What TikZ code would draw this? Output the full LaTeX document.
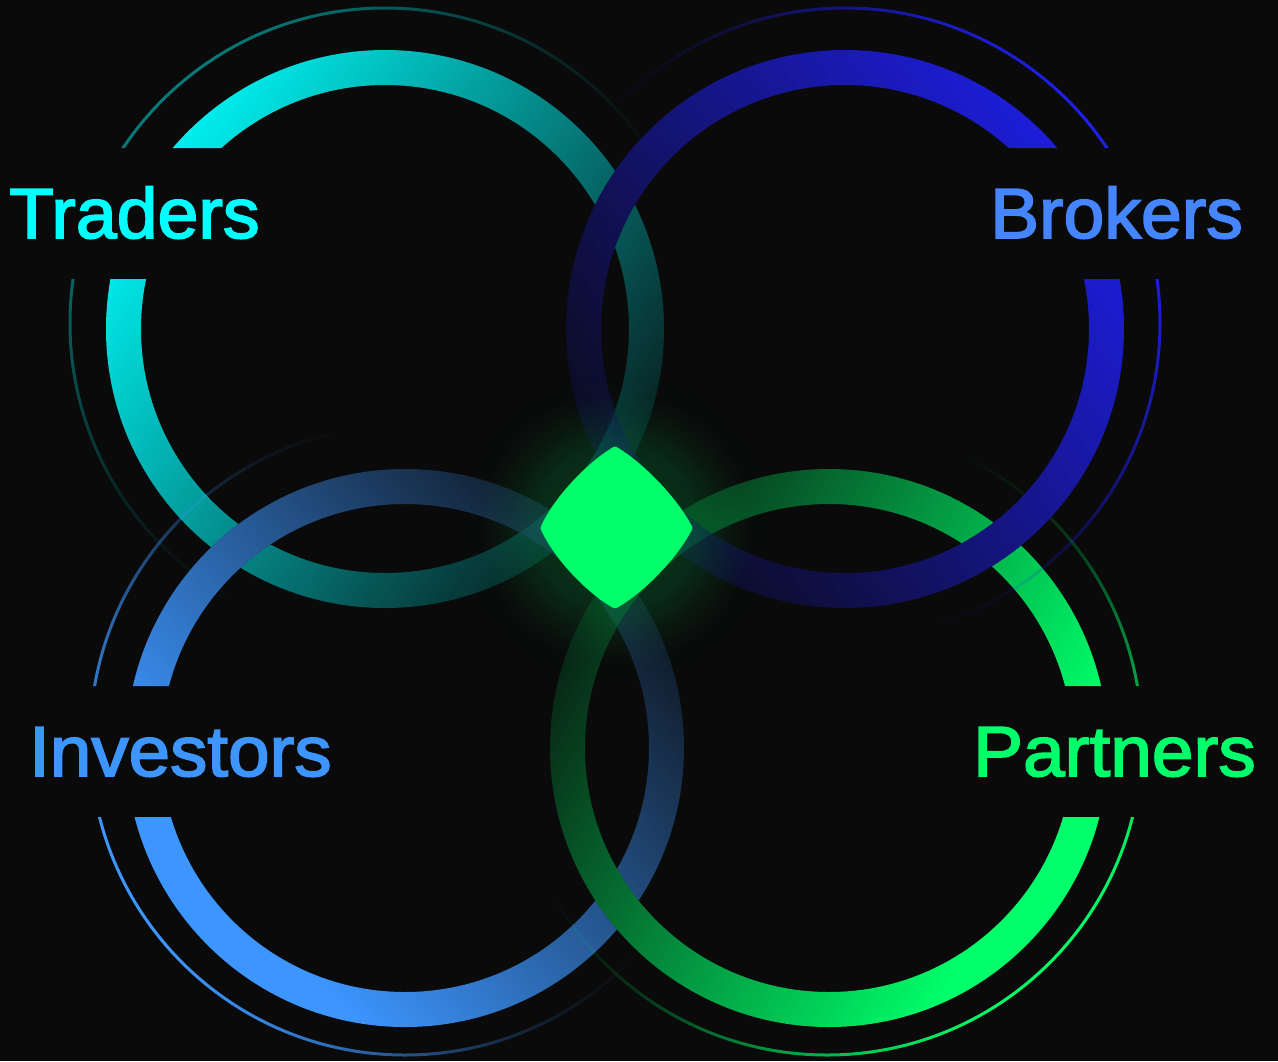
\documentclass[tikz,border=0pt]{standalone}
\usepackage{fontspec}
\newfontfamily\labelfont{Liberation Sans}[RawFeature={embolden=2.4}]
\usetikzlibrary{fadings}
\definecolor{bgdark}{HTML}{0A0A0A}
\definecolor{cyanring}{HTML}{00FFFF}
\definecolor{bluering}{HTML}{1F1FEA}
\definecolor{skyring}{HTML}{3D96FF}
\definecolor{greenring}{HTML}{00FF6A}
\definecolor{brokertext}{HTML}{4585FF}
\pgfdeclarehorizontalshading{ringmask}{100bp}{color(0bp)=(white); color(22bp)=(white); color(80bp)=(black); color(100bp)=(black)}
\pgfdeclarefading{ringfade}{\pgfuseshading{ringmask}}
\pgfdeclarehorizontalshading{brightmask}{100bp}{color(0bp)=(white); color(31bp)=(white); color(80bp)=(black); color(100bp)=(black)}
\pgfdeclarefading{brightfade}{\pgfuseshading{brightmask}}
\pgfdeclarehorizontalshading{backmask}{100bp}{color(0bp)=(white); color(66bp)=(white); color(74bp)=(black); color(100bp)=(black)}
\pgfdeclarefading{backfade}{\pgfuseshading{backmask}}
\pgfdeclarehorizontalshading{thinmask}{100bp}{color(0bp)=(white); color(26bp)=(white); color(45bp)=(black!76!white); color(51bp)=(black!91!white); color(58bp)=(black); color(100bp)=(black)}
\pgfdeclarefading{thinfade}{\pgfuseshading{thinmask}}
\pgfdeclareradialshading{glowmask}{\pgfpoint{0bp}{0bp}}{color(0bp)=(black!78!white); color(13bp)=(black!87!white); color(17bp)=(black!94!white); color(21bp)=(black!99!white); color(25bp)=(black); color(50bp)=(black)}
\pgfdeclarefading{glowfade}{\pgfuseshading{glowmask}}
\tikzset{even odd clip/.code={\pgfseteorule}}
% an exact annulus: clip to its two circles, then paint a slightly larger faded disc
% args: cx, cy, outer r, inner r, colour, fading, angle, opacity
\newcommand{\annulus}[8]{%
  \begin{scope}
    \clip[even odd clip] (#1,#2) circle[radius=#3pt] (#1,#2) circle[radius=#4pt];
    \fill[#5, path fading=#6, fading angle=#7, fill opacity=#8] (#1,#2) circle[radius=#3pt+6pt];
  \end{scope}}
% args: cx, cy of ring; cx, cy of thin arc; colour; ring fading angle; gap side x; gap top; gap bottom
% thin arc opacity in \thinop, thin arc fading angle in \thinang, ring fading in \fadename
\newcommand{\ringset}[9]{%
  \begin{scope}
    \pgfmathsetmacro{\otherside}{1278-#7}
    \clip (#7,0) -- (\otherside,0) -- (\otherside,1061) -- (#7,1061) -- (#7,#9) -- (#1,#9) -- (#1,#8) -- (#7,#8) -- cycle;
    \annulus{#1}{#2}{279}{244}{bgdark}{backfade}{#6}{1}
    \annulus{#1}{#2}{279}{244}{#5}{\fadename}{#6}{1}
    \annulus{#3}{#4}{316.5}{313.5}{#5}{thinfade}{\thinang}{\thinop}
  \end{scope}}
\newcommand{\labeltext}[2]{{\labelfont\addfontfeature{FakeStretch=#1}\fontsize{71}{71}\selectfont #2}}
\tikzset{
  label text/.style={inner sep=0pt, anchor=base west},
  center shape/.style={fill=greenring, draw=greenring, line width=5pt, line join=round}
}
\begin{document}
\begin{tikzpicture}[x=1pt,y=-1pt]
\useasboundingbox (0,0) rectangle (1278,1061);
\fill[bgdark] (0,0) rectangle (1278,1061);
\def\fadename{ringfade}
\def\thinop{0.45}\def\thinang{-45}
\ringset{385}{329}{385}{323}{cyanring}{-35}{0}{148}{279}
\def\fadename{brightfade}
\def\thinop{1}\def\thinang{30}
\ringset{405}{748}{405}{740}{skyring}{40}{0}{686}{817}
\def\thinang{137}
\ringset{829}{748}{827}{740}{greenring}{152}{1278}{686}{817}
\def\fadename{ringfade}
\def\thinang{-148}
\ringset{845}{329}{845}{323}{bluering}{-145}{1278}{148}{279}
\fill[greenring, path fading=glowfade] (616,528) circle[radius=160pt];
\path[center shape] (615,449)
  .. controls (641,464) and (676,500) .. (690,528)
  .. controls (676,556) and (641,592) .. (615,606)
  .. controls (589,592) and (555,556) .. (543,528)
  .. controls (555,500) and (589,464) .. (615,449) -- cycle;
\node[label text, text=cyanring] (traders) at (9,238) {\labeltext{1.035}{Traders}};
\node[label text, text=brokertext] (brokers) at (990,238) {\labeltext{1.033}{Brokers}};
\node[label text, text=skyring] (investors) at (29,776) {\labeltext{1.05}{Investors}};
\node[label text, text=greenring] (partners) at (973,776) {\labeltext{1.053}{Partners}};
\end{tikzpicture}
\end{document}
